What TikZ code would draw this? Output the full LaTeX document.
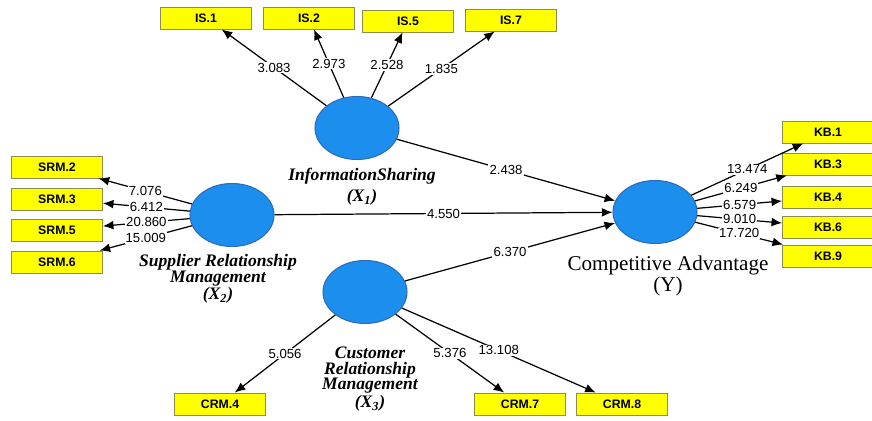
\documentclass[tikz,border=0pt]{standalone}
\usepackage{fontspec}
\setmainfont{Liberation Serif}
\setsansfont{Liberation Sans}
\usetikzlibrary{shapes.geometric}
\usetikzlibrary{arrows.meta}
\definecolor{latentblue}{RGB}{28,142,238}
\definecolor{latentedge}{RGB}{45,105,185}
\definecolor{itemyellow}{RGB}{255,255,0}
\definecolor{itemedge}{RGB}{140,140,80}
\tikzset{
    latent/.style={
        ellipse, draw=latentedge, fill=latentblue, line width=0.6pt,
        minimum width=1.68cm, minimum height=1.26cm, inner sep=0pt
    },
    item/.style={
        draw=itemedge, fill=itemyellow, line width=0.5pt,
        minimum width=1.82cm, minimum height=0.44cm, inner sep=0pt,
        font=\sffamily\bfseries\fontsize{7}{8}\selectfont
    },
    link/.style={draw, line width=0.7pt, -{Latex[length=6pt,width=5pt]}},
    coef/.style={
        midway, fill=white, inner sep=0.6pt,
        font=\sffamily\fontsize{7.5}{8}\selectfont
    },
    latentname/.style={align=center, font=\itshape\bfseries\fontsize{10}{9}\selectfont}
}

\begin{document}
\begin{tikzpicture}[x=0.02cm, y=-0.02cm]

		\useasboundingbox (0,0) rectangle (872,421);

		% latent variables
		\node[ latent ] (is) at (357,128) {};
		\node[ latent ] (srm) at (232,215) {};
		\node[ latent ] (crm) at (365,292) {};
		\node[ latent ] (ca) at (655,212) {};

		\node[ latentname ] (islab) at (362,187) {InformationSharing\\[2pt](X\textsubscript{1})};
		\node[ latentname ] (srmlab) at (218,279) {Supplier Relationship\\Management\\(X\textsubscript{2})};
		\node[ latentname ] (crmlab) at (370,379) {Customer\\Relationship\\Management\\(X\textsubscript{3})};
		\node[ align=center, font=\fontsize{12}{12}\selectfont ] (calab) at (668,276) {Competitive Advantage\\(Y)};

		% indicators
		\node[ item ] (is1) at (206,18) {IS.1};
		\node[ item ] (is2) at (309,18) {IS.2};
		\node[ item ] (is5) at (408,21) {IS.5};
		\node[ item ] (is7) at (511,20) {IS.7};

		\node[ item ] (srm2) at (57,167) {SRM.2};
		\node[ item ] (srm3) at (57,199) {SRM.3};
		\node[ item ] (srm5) at (57,230) {SRM.5};
		\node[ item ] (srm6) at (57,262) {SRM.6};

		\node[ item ] (kb1) at (828,132) {KB.1};
		\node[ item ] (kb3) at (828,164) {KB.3};
		\node[ item ] (kb4) at (828,197) {KB.4};
		\node[ item ] (kb6) at (828,227) {KB.6};
		\node[ item ] (kb9) at (828,256) {KB.9};

		\node[ item ] (crm4) at (220,404) {CRM.4};
		\node[ item ] (crm7) at (520,404) {CRM.7};
		\node[ item ] (crm8) at (622,404) {CRM.8};

		% loadings
		\draw[ link ] (is) -- (is1) node[ coef ] {3.083};
		\draw[ link ] (is) -- (is2) node[ coef ] {2.973};
		\draw[ link ] (is) -- (is5) node[ coef ] {2.528};
		\draw[ link ] (is) -- (is7) node[ coef ] {1.835};

		\draw[ link ] (srm) -- (srm2) node[ coef ] {7.076};
		\draw[ link ] (srm) -- (srm3) node[ coef ] {6.412};
		\draw[ link ] (srm) -- (srm5) node[ coef ] {20.860};
		\draw[ link ] (srm) -- (srm6) node[ coef ] {15.009};

		\draw[ link ] (ca) -- (kb1) node[ coef ] {13.474};
		\draw[ link ] (ca) -- (kb3) node[ coef ] {6.249};
		\draw[ link ] (ca) -- (kb4) node[ coef ] {6.579};
		\draw[ link ] (ca) -- (kb6) node[ coef ] {9.010};
		\draw[ link ] (ca) -- (kb9) node[ coef ] {17.720};

		\draw[ link ] (crm) -- (crm4) node[ coef ] {5.056};
		\draw[ link ] (crm) -- (crm7) node[ coef ] {5.376};
		\draw[ link ] (crm) -- (crm8) node[ coef ] {13.108};

		% paths to Y
		\draw[ link ] (is) -- (ca) node[ coef ] {2.438};
		\draw[ link ] (srm) -- (ca) node[ coef ] {4.550};
		\draw[ link ] (crm) -- (ca) node[ coef ] {6.370};

	\end{tikzpicture}
\end{document}
